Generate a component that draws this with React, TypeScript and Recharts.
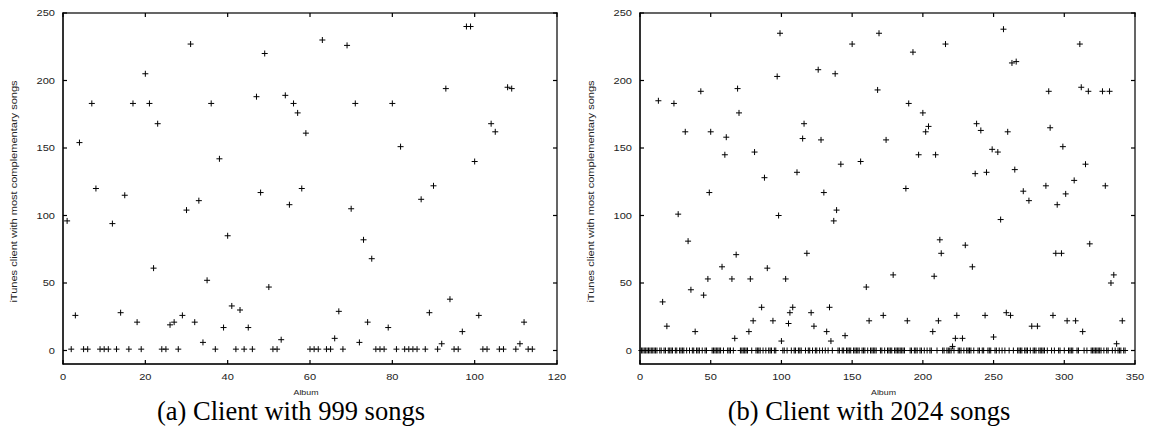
import React from "react";
import { ScatterChart, Scatter, XAxis, YAxis } from "recharts";

// complementary-song counts per album, album numbers start at 1
const client999Counts: number[] = [
  96, 1, 26, 154, 1, 1, 183, 120, 1, 1,
  1, 94, 1, 28, 115, 1, 183, 21, 1, 205,
  183, 61, 168, 1, 1, 19, 21, 1, 26, 104,
  227, 21, 111, 6, 52, 183, 1, 142, 17, 85,
  33, 1, 30, 1, 17, 1, 188, 117, 220, 47,
  1, 1, 8, 189, 108, 183, 176, 120, 161, 1,
  1, 1, 230, 1, 1, 9, 29, 1, 226, 105,
  183, 6, 82, 21, 68, 1, 1, 1, 17, 183,
  1, 151, 1, 1, 1, 1, 112, 1, 28, 122,
  1, 5, 194, 38, 1, 1, 14, 240, 240, 140,
  26, 1, 1, 168, 162, 1, 1, 195, 194, 1,
  5, 21, 1, 1,
];

const client2024Counts: number[] = [
  0, 0, 0, 0, 0, 0, 0, 0, 0, 0,
  0, 0, 185, 0, 0, 36, 0, 0, 18, 0,
  0, 0, 0, 183, 0, 0, 101, 0, 0, 0,
  0, 162, 0, 81, 0, 45, 0, 0, 14, 0,
  0, 0, 192, 0, 41, 0, 0, 53, 117, 162,
  0, 0, 0, 0, 0, 0, 0, 62, 0, 145,
  158, 0, 0, 0, 53, 0, 9, 71, 194, 176,
  0, 0, 0, 0, 0, 0, 14, 53, 0, 22,
  147, 0, 0, 0, 0, 32, 0, 128, 0, 61,
  0, 0, 0, 22, 0, 0, 203, 100, 235, 7,
  0, 0, 53, 0, 20, 28, 0, 32, 0, 0,
  132, 0, 0, 0, 157, 168, 0, 72, 0, 0,
  28, 0, 18, 0, 0, 208, 0, 156, 0, 117,
  0, 14, 0, 32, 7, 0, 96, 205, 104, 0,
  0, 138, 0, 0, 11, 0, 0, 0, 0, 227,
  0, 0, 0, 0, 0, 140, 0, 0, 0, 47,
  0, 22, 0, 0, 0, 0, 0, 193, 235, 0,
  0, 26, 0, 156, 0, 0, 0, 0, 56, 0,
  0, 0, 0, 0, 0, 0, 0, 120, 22, 183,
  0, 0, 221, 0, 0, 0, 145, 0, 0, 176,
  0, 162, 0, 166, 0, 0, 14, 55, 145, 0,
  22, 82, 72, 0, 0, 227, 0, 0, 0, 0,
  3, 0, 9, 26, 0, 0, 0, 9, 0, 78,
  0, 0, 0, 0, 62, 0, 131, 168, 0, 0,
  163, 0, 0, 26, 132, 0, 0, 0, 149, 10,
  0, 0, 147, 0, 97, 0, 238, 0, 28, 162,
  0, 26, 213, 0, 134, 214, 0, 0, 0, 0,
  118, 0, 0, 0, 111, 0, 18, 0, 0, 0,
  18, 0, 0, 0, 0, 0, 122, 0, 192, 165,
  0, 26, 0, 72, 108, 0, 0, 72, 151, 0,
  116, 22, 0, 0, 0, 0, 126, 22, 0, 0,
  227, 195, 14, 0, 138, 0, 192, 79, 0, 0,
  0, 0, 0, 0, 0, 0, 192, 0, 122, 0,
  0, 192, 50, 0, 56, 0, 5, 0, 0, 0,
  22, 0, 0,
];

const yTicks = [0, 50, 100, 150, 200, 250];
const xTicks999 = [0, 20, 40, 60, 80, 100, 120];
const xTicks2024 = [0, 50, 100, 150, 200, 250, 300, 350];

const yTitle = "iTunes client with most complementary songs";
const xTitle = "Album";
const caption999 = "(a) Client with 999 songs";
const caption2024 = "(b) Client with 2024 songs";

const SANS = '"Liberation Sans", Arial, Helvetica, sans-serif';
const SERIF = '"Liberation Serif", "Times New Roman", serif';
const Y_MIN = -10;
const Y_MAX = 250;
const CHART_H = 432;
const PLOT_TOP = 13;
const X_AXIS_H = 68;
const RULE = 1.2;

const toPoints = (counts: number[]) =>
  counts.map((count, i) => ({ album: i + 1, count }));

// gnuplot's "+" point type
function PlusMark(props: any) {
  const { cx, cy } = props;
  if (cx == null || cy == null) return null;
  return (
    <path
      d={`M${cx - 3},${cy}H${cx + 3}M${cx},${cy - 3}V${cy + 3}`}
      stroke="#000"
      strokeWidth={1}
      fill="none"
    />
  );
}

// postscript labels come out wider than they are tall
function WideText({ x, y, anchor, size = 8.5, stretch = 1.3, rotate = 0, children }: any) {
  return (
    <g transform={`translate(${x},${y}) rotate(${rotate}) scale(${stretch},1)`}>
      <text x={0} y={0} textAnchor={anchor} fontFamily={SANS} fontSize={size} fill="#222">
        {children}
      </text>
    </g>
  );
}

// with tickSize -4 / tickMargin 4 the tick anchor sits right on the axis line
const XTick = (props: any) => (
  <WideText x={props.x} y={props.y + 16} anchor="middle">
    {props.payload.value}
  </WideText>
);

const YTick = (props: any) => (
  <WideText x={props.x - 8} y={props.y + 3} anchor="end">
    {props.payload.value}
  </WideText>
);

const YTitle = ({ viewBox }: any) => (
  <WideText
    x={viewBox.x + viewBox.width - 46}
    y={viewBox.y + viewBox.height / 2 + 3}
    anchor="middle"
    rotate={-90}
  >
    {yTitle}
  </WideText>
);

const XTitle = ({ viewBox }: any) => (
  <WideText
    x={viewBox.x + viewBox.width / 2 - 4}
    y={viewBox.y + 31}
    anchor="middle"
    size={8}
    stretch={1.1}
  >
    {xTitle}
  </WideText>
);

// gnuplot border with inward tick marks on all four sides, drawn as thin filled bars
function Border({ width, left, right, xMax, xTicks }: any) {
  const top = PLOT_TOP;
  const bottom = CHART_H - X_AXIS_H;
  const h = RULE / 2;
  const px = (v: number) => left + (v / xMax) * (right - left);
  const py = (v: number) => bottom - ((v - Y_MIN) / (Y_MAX - Y_MIN)) * (bottom - top);
  const bars: { x: number; y: number; w: number; hgt: number }[] = [
    { x: left - h, y: top - h, w: right - left + RULE, hgt: RULE },
    { x: left - h, y: bottom - h, w: right - left + RULE, hgt: RULE },
    { x: left - h, y: top - h, w: RULE, hgt: bottom - top + RULE },
    { x: right - h, y: top - h, w: RULE, hgt: bottom - top + RULE },
  ];
  xTicks.forEach((v: number) => {
    const x = px(v);
    bars.push({ x: x - h, y: bottom - 4, w: RULE, hgt: 4 });
    bars.push({ x: x - h, y: top, w: RULE, hgt: 4 });
  });
  yTicks.forEach((v) => {
    const y = py(v);
    bars.push({ x: left, y: y - h, w: 4, hgt: RULE });
    bars.push({ x: right - 4, y: y - h, w: 4, hgt: RULE });
  });
  return (
    <svg
      width={width}
      height={CHART_H}
      style={{ position: "absolute", left: 0, top: 0, pointerEvents: "none", zIndex: 2 }}
    >
      {bars.map((b, i) => (
        <rect key={i} x={b.x} y={b.y} width={b.w} height={b.hgt} fill="#000" />
      ))}
    </svg>
  );
}

function AlbumPlot({ counts, xMax, xTicks, width, yAxisWidth, rightMargin, offset }: any) {
  const data = toPoints(counts);
  return (
    <div style={{ position: "absolute", left: offset, top: 0, width, height: CHART_H }}>
      <ScatterChart
        width={width}
        height={CHART_H}
        margin={{ top: PLOT_TOP, right: rightMargin, bottom: 0, left: 0 }}
      >
        <XAxis
          xAxisId="bottom"
          type="number"
          dataKey="album"
          domain={[0, xMax]}
          ticks={xTicks}
          interval={0}
          height={X_AXIS_H}
          stroke="#000"
          tickSize={-4}
          tickMargin={4}
          tick={<XTick />}
          axisLine={true}
          tickLine={false}
          label={XTitle}
        />
        <YAxis
          yAxisId="left"
          type="number"
          dataKey="count"
          domain={[Y_MIN, Y_MAX]}
          ticks={yTicks}
          interval={0}
          width={yAxisWidth}
          stroke="#000"
          tickSize={-4}
          tickMargin={4}
          tick={<YTick />}
          axisLine={true}
          tickLine={false}
          label={YTitle}
        />
        <Scatter
          xAxisId="bottom"
          yAxisId="left"
          data={data}
          shape={PlusMark}
          isAnimationActive={false}
        />
      </ScatterChart>
      <Border
        width={width}
        left={yAxisWidth}
        right={width - rightMargin}
        xMax={xMax}
        xTicks={xTicks}
      />
    </div>
  );
}

const captionStyle = (center: number): React.CSSProperties => ({
  position: "absolute",
  left: center - 200,
  top: 396,
  width: 400,
  textAlign: "center",
  fontFamily: SERIF,
  fontSize: 26.5,
  lineHeight: "30px",
  color: "#000",
  whiteSpace: "nowrap",
});

export default function App() {
  return (
    <div
      style={{
        position: "absolute",
        left: 0,
        top: 0,
        width: 1151,
        height: CHART_H,
        background: "#fff",
      }}
    >
      <AlbumPlot
        counts={client999Counts}
        xMax={120}
        xTicks={xTicks999}
        width={575}
        yAxisWidth={63}
        rightMargin={18}
        offset={0}
      />
      <AlbumPlot
        counts={client2024Counts}
        xMax={350}
        xTicks={xTicks2024}
        width={576}
        yAxisWidth={65}
        rightMargin={16}
        offset={575}
      />
      <div style={captionStyle(291)}>{caption999}</div>
      <div style={captionStyle(869)}>{caption2024}</div>
    </div>
  );
}
